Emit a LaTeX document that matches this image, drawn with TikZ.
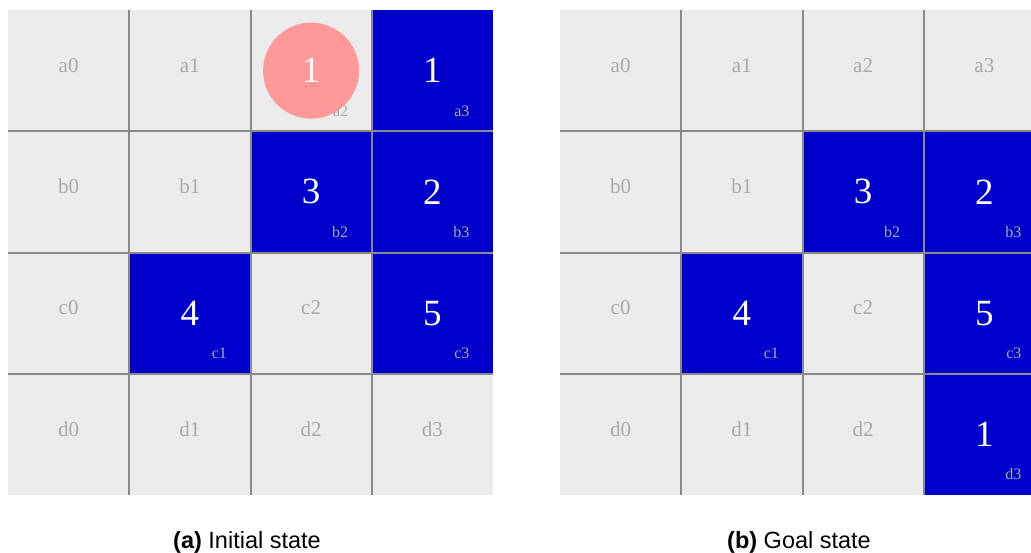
\documentclass[tikz,border=0pt]{standalone}
\usepackage{fontspec}
\setmainfont{Liberation Serif}
\newfontfamily\capfont{Liberation Sans}
\definecolor{cellgray}{HTML}{EBEBEB}
\definecolor{cellblue}{HTML}{0000CC}
\definecolor{gridgray}{HTML}{8A8A8A}
\definecolor{labelgray}{HTML}{AAAAAA}
\definecolor{ballred}{HTML}{FF9999}
\begin{document}
\begin{tikzpicture}[x=1pt,y=-1pt,
    lbl/.style={text=labelgray,font=\fontsize{21}{21}\selectfont},
    tag/.style={text=labelgray,font=\fontsize{16}{16}\selectfont,anchor=base east},
    num/.style={text=white,font=\fontsize{37}{37}\selectfont},
    gridline/.style={gridgray,line width=2pt},
    caption/.style={font=\capfont\fontsize{23.5}{27}\selectfont,anchor=base}]
  \useasboundingbox (0,0) rectangle (1031,552);

  % Etat initial
  \begin{scope}[shift={(8,10)},x=121.25pt,y=-121.25pt]
    \fill[cellgray] (0,0) rectangle (4,4);
    % cases occupees
    \foreach \c/\r in {3/0,2/1,3/1,1/2,3/2}
      \fill[cellblue] (\c,\r) rectangle +(1,1);
    % grille
    \foreach \i in {1,2,3} {
      \draw[gridline] (\i,0) -- (\i,4);
      \draw[gridline] (0,\i) -- (4,\i);
    }
    % bloc qui tombe
    \fill[ballred] (2.5,0.5) circle (48pt);
    \node[num] (iball) at (2.5,0.5) {1};
    \node[tag] (ita2) at (2.835,0.876) {a2};
    % cases libres
    \foreach \n/\c/\r in {a0/0/0,a1/1/0,b0/0/1,b1/1/1,c0/0/2,c2/2/2,d0/0/3,d1/1/3,d2/2/3,d3/3/3}
      \node[lbl] (i\n) at (\c+0.5,\r+0.455) {\n};
    % blocs
    \foreach \n/\c/\r/\v in {a3/3/0/1,b2/2/1/3,b3/3/1/2,c1/1/2/4,c3/3/2/5} {
      \node[num] (in\n) at (\c+0.5,\r+0.5) {\v};
      \node[tag] (it\n) at (\c+0.835,\r+0.876) {\n};
    }
  \end{scope}

  % Etat final
  \begin{scope}[shift={(560,10)},x=121.25pt,y=-121.25pt]
    \clip (0,0) rectangle (3.885,4);
    \fill[cellgray] (0,0) rectangle (4,4);
    % cases occupees
    \foreach \c/\r in {2/1,3/1,1/2,3/2,3/3}
      \fill[cellblue] (\c,\r) rectangle +(1,1);
    % grille
    \foreach \i in {1,2,3} {
      \draw[gridline] (\i,0) -- (\i,4);
      \draw[gridline] (0,\i) -- (4,\i);
    }
    % cases libres
    \foreach \n/\c/\r in {a0/0/0,a1/1/0,a2/2/0,a3/3/0,b0/0/1,b1/1/1,c0/0/2,c2/2/2,d0/0/3,d1/1/3,d2/2/3}
      \node[lbl] (g\n) at (\c+0.5,\r+0.455) {\n};
    % blocs
    \foreach \n/\c/\r/\v in {b2/2/1/3,b3/3/1/2,c1/1/2/4,c3/3/2/5,d3/3/3/1} {
      \node[num] (gn\n) at (\c+0.5,\r+0.5) {\v};
      \node[tag] (gt\n) at (\c+0.835,\r+0.876) {\n};
    }
  \end{scope}

  % Legendes
  \node[caption] (capinit) at (247,548) {\textbf{(a)} Initial state};
  \node[caption] (capgoal) at (799,548) {\textbf{(b)} Goal state};
\end{tikzpicture}
\end{document}
